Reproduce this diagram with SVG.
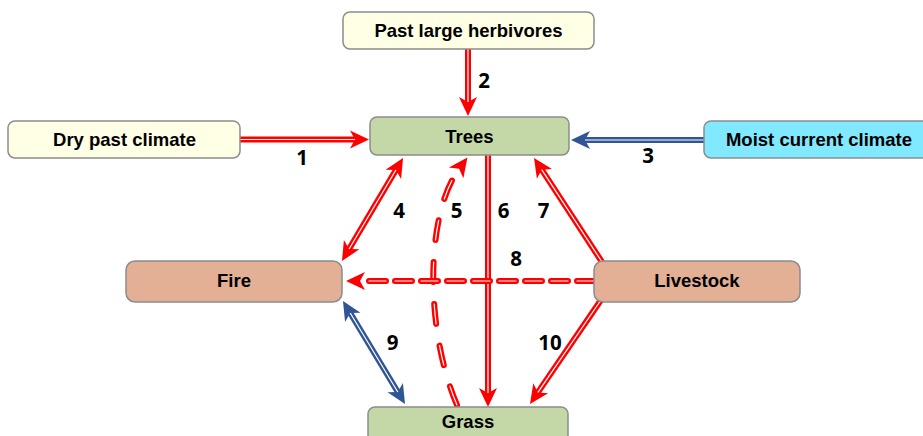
<svg xmlns="http://www.w3.org/2000/svg" width="923" height="436" viewBox="0 0 923 436">
<style>
.box{stroke:#8c8c8c;stroke-width:1.5}
.y{fill:#ffffe5}
.g{fill:#c4d8a7}
.c{fill:#80e8ff}
.s{fill:#e3af95}
.lbl{font-family:"Liberation Sans",Arial,sans-serif;font-weight:bold;font-size:18.5px;fill:#000;text-anchor:middle}
.num{font-family:"Open Sans","Liberation Sans",sans-serif;font-weight:bold;font-size:20.5px;fill:#000;text-anchor:middle}
.r{fill:none;stroke:#ff0000;stroke-width:6}
.b{fill:none;stroke:#2f5597;stroke-width:6}
.w{fill:none;stroke:#ffffff;stroke-width:1.2}
.d1{stroke-dasharray:17 9;stroke-linecap:round}
.d2{stroke-dasharray:20 22;stroke-linecap:round}
</style>
<defs>
<marker id="ar" markerUnits="userSpaceOnUse" markerWidth="20" markerHeight="20" refX="5" refY="9" orient="auto-start-reverse" overflow="visible">
<path d="M0,0 L19,9 L0,18 L5,9 Z" fill="#ff0000"/>
</marker>
<marker id="ab" markerUnits="userSpaceOnUse" markerWidth="20" markerHeight="20" refX="5" refY="9" orient="auto-start-reverse" overflow="visible">
<path d="M0,0 L19,9 L0,18 L5,9 Z" fill="#2f5597"/>
</marker>
</defs>
<g id="connectors">
<path class="r" d="M240,139.5 H355" marker-end="url(#ar)"/>
<path class="w" d="M240,139.5 H355"/>
<path class="r" d="M468,49 V102" marker-end="url(#ar)"/>
<path class="w" d="M468,49 V102"/>
<path class="b" d="M704,140 H585" marker-end="url(#ab)"/>
<path class="w" d="M704,140 H585"/>
<path class="r" d="M349.1,249 L395.9,170" marker-start="url(#ar)" marker-end="url(#ar)"/>
<path class="w" d="M349.1,249 L395.9,170"/>
<path class="r d2" d="M457,405 C425,330 425,215 459.1,168.8" marker-end="url(#ar)"/>
<path class="w d2" d="M457,405 C425,330 425,215 459.1,168.8"/>
<path class="r" d="M488,155 V393" marker-end="url(#ar)"/>
<path class="w" d="M488,155 V393"/>
<path class="r" d="M602,262 L541.7,169.7" marker-end="url(#ar)"/>
<path class="w" d="M602,262 L541.7,169.7"/>
<path class="r d1" d="M594,281 H360" marker-end="url(#ar)"/>
<path class="w d1" d="M594,281 H360"/>
<path class="b" d="M350.2,313 L397.8,392" marker-start="url(#ab)" marker-end="url(#ab)"/>
<path class="w" d="M350.2,313 L397.8,392"/>
<path class="r" d="M601,300 L537.9,392.4" marker-end="url(#ar)"/>
<path class="w" d="M601,300 L537.9,392.4"/>
<text class="num" x="302" y="165">1</text>
<text class="num" x="484" y="88">2</text>
<text class="num" x="648" y="163">3</text>
<text class="num" x="399" y="218">4</text>
<text class="num" x="456.5" y="218">5</text>
<text class="num" x="503.5" y="218">6</text>
<text class="num" x="543.5" y="218">7</text>
<text class="num" x="516" y="266">8</text>
<text class="num" x="392.5" y="350">9</text>
<text class="num" x="550" y="350">10</text>
</g>
<g id="past-herbivores">
<rect class="box y" x="343" y="12" width="251" height="37" rx="7"/>
<text class="lbl" x="468.5" y="37">Past large herbivores</text>
</g>
<g id="dry-climate">
<rect class="box y" x="8" y="121" width="232" height="37" rx="7"/>
<text class="lbl" x="124.5" y="146">Dry past climate</text>
</g>
<g id="trees">
<rect class="box g" x="370" y="117" width="199" height="38" rx="7"/>
<text class="lbl" x="469.5" y="142.5">Trees</text>
</g>
<g id="moist-climate">
<rect class="box c" x="704" y="121" width="228" height="37" rx="7"/>
<text class="lbl" x="819" y="146">Moist current climate</text>
</g>
<g id="fire">
<rect class="box s" x="126" y="261" width="216" height="41" rx="9"/>
<text class="lbl" x="234" y="287">Fire</text>
</g>
<g id="livestock">
<rect class="box s" x="594" y="261" width="206" height="41" rx="9"/>
<text class="lbl" x="697" y="287">Livestock</text>
</g>
<g id="grass">
<rect class="box g" x="368" y="407" width="200" height="40" rx="7"/>
<text class="lbl" x="468" y="428">Grass</text>
</g>
</svg>
